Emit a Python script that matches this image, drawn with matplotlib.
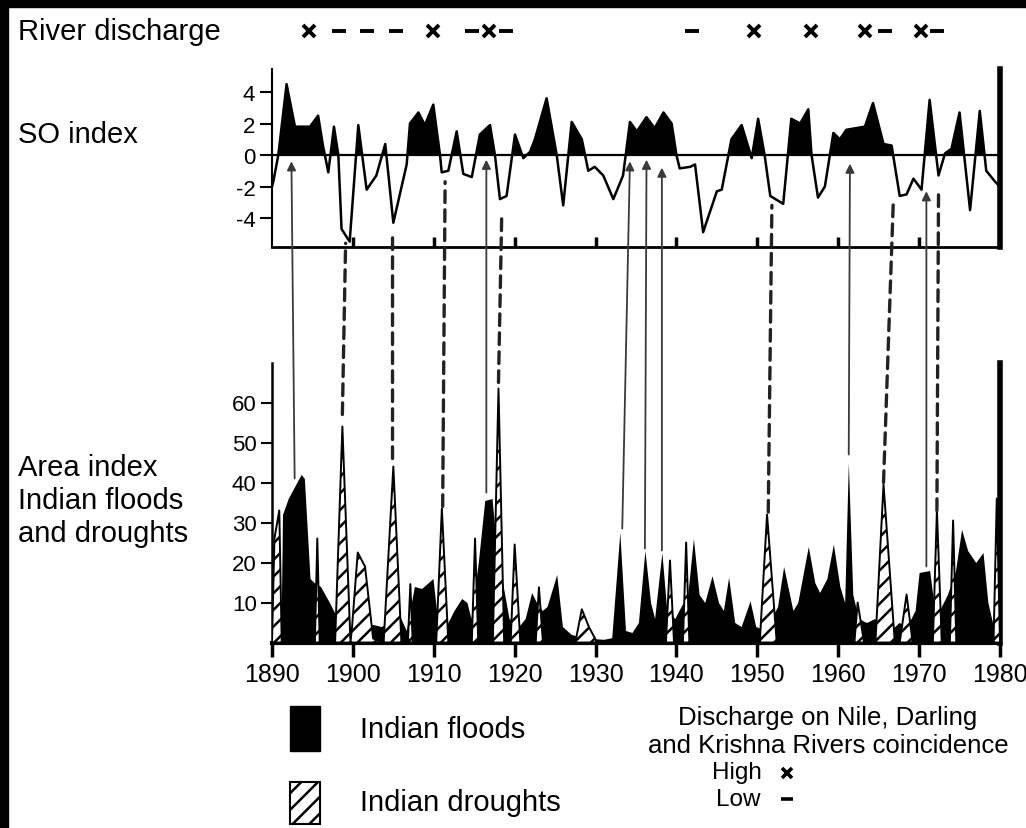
import matplotlib.pyplot as plt
from matplotlib import font_manager
from matplotlib.lines import Line2D
from matplotlib.patches import ConnectionPatch, Rectangle
from matplotlib.transforms import blended_transform_factory

# Southern Oscillation index (upper panel)
so_years = [1890.0, 1890.16, 1890.78, 1891.8, 1892.84, 1894.7, 1895.7, 1896.3, 1896.96, 1897.66,
            1898.2, 1898.6, 1899.6, 1900.67, 1901.7, 1902.9, 1904.0, 1905.0, 1906.65, 1907.06,
            1908.1, 1908.9, 1909.94, 1910.77, 1910.98, 1911.8, 1912.83, 1913.65, 1914.7, 1915.7,
            1916.95, 1917.56, 1918.18, 1919.0, 1920.04, 1921.07, 1921.9, 1922.5, 1923.95, 1925.2,
            1926.0, 1927.05, 1928.3, 1929.1, 1929.9, 1930.95, 1932.2, 1933.4, 1934.25, 1935.1,
            1936.3, 1937.3, 1938.4, 1939.4, 1940.0, 1940.4, 1941.7, 1942.3, 1943.3, 1945.0,
            1945.6, 1946.8, 1948.06, 1949.3, 1950.1, 1950.9, 1951.6, 1953.2, 1954.2, 1955.3,
            1956.3, 1956.7, 1957.5, 1958.35, 1959.4, 1960.2, 1961.0, 1963.3, 1964.3, 1965.6,
            1966.6, 1967.6, 1968.45, 1969.3, 1970.3, 1971.3, 1972.4, 1973.2, 1974.0, 1975.0,
            1976.3, 1977.5, 1978.3, 1979.4, 1980.0]
so_values = [-2.0, -1.7, 0, 4.5, 1.8, 1.8, 2.5, 0.6, -1.1, 1.8,
             0, -4.7, -5.5, 1.9, -2.2, -1.3, 0.7, -4.3, -0.6, 2.0,
             2.7, 1.9, 3.2, 0, -1.1, -1.0, 1.5, -1.2, -1.4, 1.3,
             1.9, 0, -2.8, -2.6, 1.3, -0.2, 0.2, 1.0, 3.6, 0,
             -3.2, 2.1, 1.0, -1.0, -0.75, -1.3, -2.8, -1.3, 2.1, 1.5,
             2.4, 1.7, 2.7, 2.0, 0, -0.85, -0.75, -0.6, -4.9, -2.3,
             -2.2, 1.0, 1.9, -0.2, 2.3, 0, -2.6, -3.1, 2.3, 2.0,
             2.9, 0, -2.7, -2.0, 1.4, 1.0, 1.6, 1.8, 3.3, 0.7,
             0.6, -2.6, -2.5, -1.5, -2.2, 3.5, -1.3, 0.1, 0.4, 2.7,
             -3.5, 2.8, -1.0, -1.7, -2.0]

# area index, Indian floods
flood_years = [1890.0, 1891.1, 1891.3, 1892.0, 1893.6, 1894.0, 1894.7, 1895.2, 1896.0, 1897.1,
               1898.1, 1899.4, 1900.2, 1901.5, 1902.5, 1903.5, 1904.5, 1905.6, 1906.6, 1907.6,
               1908.5, 1909.9, 1910.5, 1911.5, 1912.5, 1913.45, 1914.1, 1914.6, 1915.5, 1916.3,
               1917.2, 1917.7, 1918.5, 1919.3, 1920.5, 1921.3, 1922.1, 1922.7, 1923.4, 1924.0,
               1925.2, 1925.9, 1927.0, 1928.0, 1929.5, 1931.0, 1932.0, 1933.0, 1933.7, 1934.5,
               1935.3, 1936.1, 1936.8, 1937.3, 1938.2, 1938.8, 1939.8, 1940.3, 1941.4, 1942.1,
               1942.8, 1943.5, 1944.4, 1945.2, 1945.8, 1946.45, 1947.2, 1948.0, 1949.1, 1949.8,
               1951.0, 1952.5, 1953.25, 1954.4, 1955.0, 1956.3, 1957.1, 1957.7, 1958.6, 1959.4,
               1960.2, 1960.8, 1961.25, 1961.8, 1962.5, 1963.5, 1964.5, 1965.5, 1966.5, 1967.5,
               1968.5, 1969.5, 1970.0, 1971.3, 1971.8, 1972.5, 1973.5, 1974.5, 1975.25, 1976.0,
               1977.0, 1977.9, 1978.5, 1979.3, 1979.6]
flood_values = [0, 0, 32, 36, 42, 41, 16, 15, 14, 10,
                6, 3.5, 3, 4, 4.5, 4, 5, 7.5, 3, 14,
                13.5, 16, 5, 4, 8, 11, 10, 6, 20, 35.5,
                36, 25, 15, 6, 4, 6, 12.5, 10, 8, 9,
                17, 4, 2, 1.5, 1, 0.8, 1.2, 27.5, 3, 2.5,
                5, 23, 10, 6, 22.5, 8, 6, 8, 12, 26,
                12, 10, 16.7, 10, 8, 16.3, 5, 4, 10.4, 4,
                3, 9, 19, 8, 10, 24, 15, 12.5, 16, 24.6,
                14, 10, 45, 12, 6, 5, 6, 4, 3, 5,
                4, 8, 17.5, 18, 10, 8, 12, 18, 28.3, 23,
                20, 22.5, 10, 3, 0]

# area index, Indian droughts
drought_years = [1890.0, 1890.3, 1890.9, 1891.2, 1895.3, 1895.6, 1895.9, 1897.8, 1898.7, 1899.7,
                 1899.9, 1900.6, 1901.5, 1902.5, 1903.8, 1905.0, 1906.0, 1906.8, 1907.1, 1907.4,
                 1910.3, 1911.0, 1911.8, 1914.7, 1915.1, 1915.5, 1917.3, 1918.0, 1918.7, 1919.5,
                 1920.0, 1920.7, 1922.6, 1923.0, 1923.5, 1927.5, 1928.3, 1929.2, 1930.2, 1938.7,
                 1939.2, 1939.7, 1940.8, 1941.2, 1941.6, 1950.3, 1951.2, 1952.4, 1962.0, 1962.4,
                 1963.2, 1964.6, 1965.6, 1967.0, 1967.6, 1968.45, 1969.2, 1971.7, 1972.2, 1972.8,
                 1973.8, 1974.2, 1974.6, 1979.2, 1979.6, 1980.0]
drought_values = [0, 26, 33, 0, 0, 26, 0, 0, 54, 0,
                  4, 22.5, 19, 1, 0, 44, 0, 0, 14.6, 0,
                  0, 33.5, 0, 0, 26, 0, 0, 63.5, 0, 0,
                  24.5, 0, 0, 13.8, 0, 0, 8.3, 3.8, 0, 0,
                  20.5, 0, 0, 25, 0, 0, 32, 0, 0, 10,
                  0, 0, 39.5, 0, 0, 12, 0, 0, 33, 0,
                  0, 30.5, 0, 0, 36, 0]

# river discharge coincidence marks
high_years = [1894.6, 1909.9, 1916.8, 1949.6, 1956.6, 1963.3, 1970.2]
low_years = [1898.3, 1901.7, 1905.3, 1914.7, 1918.9, 1941.9, 1965.8, 1972.2]

# links: flood peak -> SO index (solid arrows), drought peak -> SO trough (dashed)
flood_link_low = [(1892.8, 41), (1916.5, 37.5), (1933.3, 28.5), (1936.1, 23.5),
                  (1938.2, 23), (1961.3, 47), (1970.9, 19)]
flood_link_up = [(1892.4, -0.4), (1916.5, -0.3), (1934.25, -0.4), (1936.3, -0.3),
                 (1938.2, -0.8), (1961.45, -0.55), (1970.9, -2.3)]
drought_link_low = [(1898.7, 57), (1904.9, 46), (1911.1, 34), (1918.0, 65),
                    (1951.35, 32.6), (1965.6, 40), (1972.2, 33)]
drought_link_up = [(1899.1, -5.6), (1904.9, -5.1), (1911.4, -1.7), (1918.4, -3.8),
                   (1951.8, -3.2), (1966.8, -3.1), (1972.4, -2.45)]

so_ticks = [-4, -2, 0, 2, 4]
area_ticks = [10, 20, 30, 40, 50, 60]
decades = list(range(1890, 1981, 10))

names = {f.name for f in font_manager.fontManager.ttflist}
narrow = "Liberation Sans Narrow" if "Liberation Sans Narrow" in names else "Liberation Sans"
plt.rcParams["font.family"] = "Liberation Sans"
plt.rcParams["hatch.linewidth"] = 1.8

W, H = 1026, 829


def fx(px):
    return px / W


def fy(py):
    return 1 - py / H


fig = plt.figure(figsize=(W / 100, H / 100), dpi=100)

ax1 = fig.add_axes([fx(272), fy(248), fx(1000) - fx(272), fy(70) - fy(248)])
ax2 = fig.add_axes([fx(272), fy(643.5), fx(1000) - fx(272), fy(363.5) - fy(643.5)])

# --- SO index
ax1.fill_between(so_years, so_values, 0, where=[v >= 0 for v in so_values],
                 interpolate=True, color="black", lw=0)
ax1.plot(so_years, so_values, color="black", lw=1.8)
ax1.axhline(0, color="black", lw=1.6)
ax1.set_xlim(1890, 1980)
ax1.set_ylim(-5.84, 5.46)
ax1.set_yticks(so_ticks)
ax1.set_yticklabels([str(t) for t in so_ticks], fontfamily=narrow)
ax1.set_xticks(list(range(1900, 1980, 10)))
ax1.tick_params(axis="y", length=9, width=1.5, labelsize=16, pad=3)
ax1.tick_params(axis="x", direction="in", length=7, width=2.5, labelbottom=False)
ax1.spines["top"].set_visible(False)
ax1.spines["left"].set_linewidth(1.5)
ax1.spines["bottom"].set_linewidth(2)
ax1.spines["right"].set_linewidth(4)

# --- floods and droughts
ax2.fill_between(flood_years, flood_values, 0, color="black", lw=0, zorder=2)
ax2.fill_between(drought_years, drought_values, 0, facecolor="white", edgecolor="black",
                 hatch="//", lw=1.4, zorder=3)
ax2.set_xlim(1890, 1980)
ax2.set_ylim(0, 70)
ax2.set_yticks(area_ticks)
ax2.set_yticklabels([str(t) for t in area_ticks], fontfamily=narrow)
ax2.set_xticks(decades)
ax2.set_xticklabels([str(d) for d in decades], fontfamily=narrow)
ax2.tick_params(axis="y", length=8, width=1.5, labelsize=16, pad=3)
ax2.tick_params(axis="x", length=10, width=2.5, labelsize=18, pad=4)
ax2.spines["top"].set_visible(False)
ax2.spines["left"].set_linewidth(1.8)
ax2.spines["bottom"].set_linewidth(3)
ax2.spines["right"].set_linewidth(4)

# arrows between the panels
for low, up in zip(flood_link_low, flood_link_up):
    con = ConnectionPatch(xyA=low, coordsA=ax2.transData, xyB=up, coordsB=ax1.transData,
                          arrowstyle="-|>", mutation_scale=13, lw=1.3, color="#3a3a3a", zorder=5)
    fig.add_artist(con)
for low, up in zip(drought_link_low, drought_link_up):
    con = ConnectionPatch(xyA=low, coordsA=ax2.transData, xyB=up, coordsB=ax1.transData,
                          arrowstyle="-", lw=2.4, color="#222222", linestyle=(0, (3.5, 2.2)), zorder=5)
    fig.add_artist(con)

# river discharge row
row = blended_transform_factory(ax1.transData, fig.transFigure)
ax1.plot(high_years, [fy(32)] * len(high_years), transform=row, ls="none", marker="x",
         ms=8, mew=2.8, color="black", clip_on=False)
ax1.plot(low_years, [fy(32)] * len(low_years), transform=row, ls="none", marker="_",
         ms=10, mew=2.8, color="black", clip_on=False)

# left-hand labels
fig.text(fx(18), fy(32), "River discharge", fontsize=21, va="center")
fig.text(fx(18), fy(135), "SO index", fontsize=21, va="center")
fig.text(fx(18), fy(468), "Area index", fontsize=21, va="center")
fig.text(fx(18), fy(501), "Indian floods", fontsize=21, va="center")
fig.text(fx(18), fy(534), "and droughts", fontsize=21, va="center")

# legend
fig.patches.append(Rectangle((fx(290), fy(752)), fx(320) - fx(290), fy(707) - fy(752),
                             transform=fig.transFigure, facecolor="black", edgecolor="black"))
fig.patches.append(Rectangle((fx(290), fy(825)), fx(320) - fx(290), fy(783) - fy(825),
                             transform=fig.transFigure, facecolor="white", edgecolor="black",
                             hatch="//", lw=1.5))
fig.text(fx(360), fy(730), "Indian floods", fontsize=21, va="center")
fig.text(fx(360), fy(803), "Indian droughts", fontsize=21, va="center")
fig.text(fx(828), fy(718), "Discharge on Nile, Darling", fontsize=18.5, va="center", ha="center")
fig.text(fx(828), fy(746), "and Krishna Rivers coincidence", fontsize=18.5, va="center", ha="center")
fig.text(fx(762), fy(773), "High", fontsize=17.5, va="center", ha="right")
fig.text(fx(760), fy(800), "Low", fontsize=17.5, va="center", ha="right")
fig.add_artist(Line2D([fx(787)], [fy(774)], transform=fig.transFigure, marker="x",
                      ms=7, mew=2.6, color="black"))
fig.add_artist(Line2D([fx(787)], [fy(800)], transform=fig.transFigure, marker="_",
                      ms=8, mew=2.6, color="black"))

# black frame on top and left
fig.patches.append(Rectangle((0, fy(8)), 1, 8 / H, transform=fig.transFigure, color="black"))
fig.patches.append(Rectangle((0, 0), 8 / W, 1, transform=fig.transFigure, color="black"))

fig.savefig("out.png", dpi=100)
